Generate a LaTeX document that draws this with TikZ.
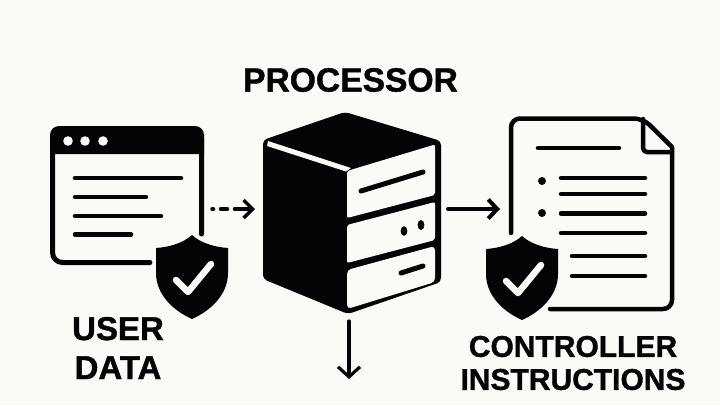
\documentclass[tikz,border=0pt]{standalone}
\usepackage{fontspec}
\setmainfont{Liberation Sans}[BoldFeatures={FakeBold=1.2}]
\usetikzlibrary{arrows.meta}
\definecolor{paper}{RGB}{250,250,246}
\definecolor{ink}{RGB}{4,4,4}
\begin{document}
\begin{tikzpicture}[x=1pt,y=-1pt,line cap=round,line join=round,>={Straight Barb[length=9pt,width=19pt]},
    textline/.style={draw=ink,line width=4.5pt},
    title/.style={text=ink,font=\bfseries,inner sep=0pt,align=center},
    link/.style={draw=ink,->},
    shield/.pic={
      \path[draw=paper,line width=7pt,fill=ink] (0,0) .. controls (9,8) and (22,12) .. (36,13) -- (36,38) .. controls (36,60) and (18,76) .. (0,84) .. controls (-18,76) and (-36,60) .. (-36,38) -- (-36,13) .. controls (-22,12) and (-9,8) .. (0,0) -- cycle;
      \fill[ink] (0,0) .. controls (9,8) and (22,12) .. (36,13) -- (36,38) .. controls (36,60) and (18,76) .. (0,84) .. controls (-18,76) and (-36,60) .. (-36,38) -- (-36,13) .. controls (-22,12) and (-9,8) .. (0,0) -- cycle;
      \draw[paper,line width=6.5pt] (-16,45) -- (-4,57) -- (19,29);
    }]
  \fill[paper] (0,0) rectangle (720,405);
  \useasboundingbox (0,0) rectangle (720,405);
  % draw the window
  \draw[ink,line width=5pt,rounded corners=10pt] (201.5,234) -- (201.5,129) -- (52.5,129) -- (52.5,262.5) -- (150,262.5);
  \fill[ink] (50,154) [rounded corners=9pt] -- (50,126) -- (204,126) [sharp corners] -- (204,154) -- cycle;
  \foreach \dotx in {68,85,103}
    \fill[paper] (\dotx,141) circle (4.8pt);
  \draw[textline] (75,178) -- (181,178);
  \draw[textline] (75,197) -- (146,197);
  \draw[textline] (75,216) -- (161,216);
  \draw[textline] (75,234.5) -- (131,234.5);
  \pic at (192,235) {shield};
  % draw the server
  \fill[ink,rounded corners=4pt] (345,112) -- (441,141) -- (441,282) -- (348,314) -- (263,279) -- (263,140) -- cycle;
  \fill[paper] (268,141) -- (351,168) -- (346,171.5) -- (267,146) -- cycle;
  \fill[paper,rounded corners=2pt] (347,171) -- (435,144.5) -- (435,195) -- (347,218) -- cycle;
  \fill[paper,rounded corners=2pt] (347,225) -- (435,202) -- (435,240) -- (347,263) -- cycle;
  \fill[paper,rounded corners=4pt] (347,270) -- (435,246) -- (435,282) -- (347,309) -- cycle;
  \draw[ink,line width=5pt] (361,191) -- (423,172);
  \fill[ink] (404,231) ellipse (3.4pt and 4.8pt);
  \fill[ink] (421,225) ellipse (3.4pt and 5pt);
  \draw[ink,line width=5pt] (401,273) -- (423,266);
  % draw the page
  \draw[ink,line width=4.5pt,rounded corners=9pt] (511,233) -- (511,118.5) -- (643,118.5) [sharp corners] -- (672,147) [rounded corners=9pt] -- (672,309) -- (550,309);
  \draw[ink,line width=4.5pt,rounded corners=4pt] (643,119) -- (643,152) -- (672,152);
  \draw[textline] (538,148) -- (619,148);
  \fill[ink] (542,181) circle (4pt);
  \fill[ink] (542,213) circle (4pt);
  \draw[textline] (561,178) -- (645,178);
  \draw[textline] (561,194) -- (645,194);
  \draw[textline] (561,213.5) -- (645,213.5);
  \draw[textline] (561,233) -- (645,233);
  \draw[textline] (572,256) -- (645,256);
  \draw[textline] (572,276) -- (645,276);
  \pic at (522,236) {shield};
  % connectors
  \coordinate (datastart) at (212,209);
  \coordinate (dataend) at (255,209);
  \coordinate (outstart) at (448,209);
  \coordinate (outend) at (500,209);
  \coordinate (downstart) at (349,321);
  \coordinate (downend) at (349,379);
  \draw[link,line width=3.5pt,dash pattern=on 1.5pt off 7pt on 7pt off 7pt on 30pt,>={Straight Barb[length=9pt,width=18pt]}] (datastart) -- (dataend);
  \draw[link,line width=4pt] (outstart) -- (outend);
  \draw[link,line width=3.2pt,>={Straight Barb[length=10pt,width=22pt]}] (downstart) -- (downend);
  % labels
  \node[title,font=\fontsize{33.6}{33}\bfseries\selectfont] (processor) at (350.5,80) {PROCESSOR};
  \node[title,font=\fontsize{33}{39}\bfseries\selectfont] (userdata) at (118,348) {USER\\DATA};
  \node[title,font=\fontsize{30}{33}\bfseries\selectfont] (controller) at (573,363) {CONTROLLER\\INSTRUCTIONS};
\end{tikzpicture}
\end{document}
